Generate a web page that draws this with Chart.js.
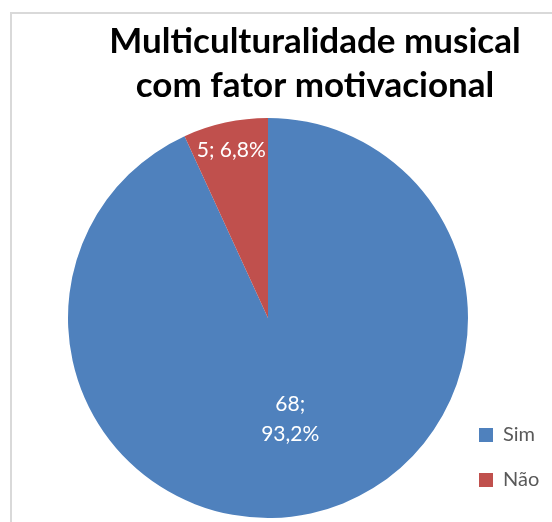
<!DOCTYPE html>
<html>
<head>
<meta charset="utf-8">
<script src="https://cdn.jsdelivr.net/npm/chart.js@4"></script>
<style>
  html, body { margin: 0; padding: 0; background: #fff; overflow: hidden; }
  #wrap { position: relative; width: 552px; height: 522px; }
  #frame {
    position: absolute; left: 10px; top: 12px; width: 700px; height: 700px;
    border: 2px solid #d9d9d9; box-sizing: border-box;
  }
  #chart { position: absolute; left: 0; top: 0; }
</style>
</head>
<body>
<div id="wrap">
  <div id="frame"></div>
  <canvas id="chart" width="552" height="522"></canvas>
</div>
<script>
const titleLines = ['Multiculturalidade musical', 'com fator motivacional'];
const categories = ['Sim', 'Não'];
const counts = [68, 5];
const sliceColors = ['#4F81BD', '#C0504D'];

const total = counts.reduce((a, b) => a + b, 0);

// "68; 93,2%" style labels placed inside each slice
const sliceLabels = {
  id: 'sliceLabels',
  afterDatasetsDraw(chart, args, opts) {
    const ctx = chart.ctx;
    const meta = chart.getDatasetMeta(0);
    ctx.save();
    ctx.fillStyle = '#fff';
    ctx.font = '21px Lato';
    ctx.textAlign = 'center';
    ctx.textBaseline = 'middle';
    meta.data.forEach((arc, i) => {
      const p = arc.getProps(['x', 'y', 'startAngle', 'endAngle', 'outerRadius'], true);
      const mid = (p.startAngle + p.endAngle) / 2;
      const r = p.outerRadius * opts.radiusFactor[i];
      const cx = p.x + Math.cos(mid) * r;
      const cy = p.y + Math.sin(mid) * r;
      const v = counts[i];
      const pct = (v / total * 100).toFixed(1).replace('.', ',') + '%';
      const lines = opts.wrap[i] ? [v + ';', pct] : [v + '; ' + pct];
      const lh = 30;
      lines.forEach((t, k) => {
        ctx.fillText(t, cx, cy + (k - (lines.length - 1) / 2) * lh);
      });
    });
    ctx.restore();
  }
};

new Chart(document.getElementById('chart'), {
  type: 'pie',
  data: {
    labels: categories,
    datasets: [{
      data: counts,
      backgroundColor: sliceColors,
      borderWidth: 0,
      radius: 200
    }]
  },
  options: {
    responsive: false,
    animation: false,
    devicePixelRatio: 1,
    layout: { padding: { left: 82, right: 4, top: 0, bottom: 7 } },
    plugins: {
      title: {
        display: true,
        text: titleLines,
        color: '#000',
        font: { family: 'Lato', weight: 'bold', size: 35, lineHeight: 1.257 },
        padding: { top: 20, bottom: 13 }
      },
      legend: {
        position: 'right',
        align: 'end',
        maxWidth: 94,
        labels: {
          color: '#595959',
          font: { family: 'Lato', size: 20 },
          boxWidth: 14,
          boxHeight: 14,
          padding: 25
        }
      },
      tooltip: { enabled: false },
      sliceLabels: { radiusFactor: [0.52, 0.86], wrap: [true, false] }
    }
  },
  plugins: [sliceLabels]
});
</script>
</body>
</html>
